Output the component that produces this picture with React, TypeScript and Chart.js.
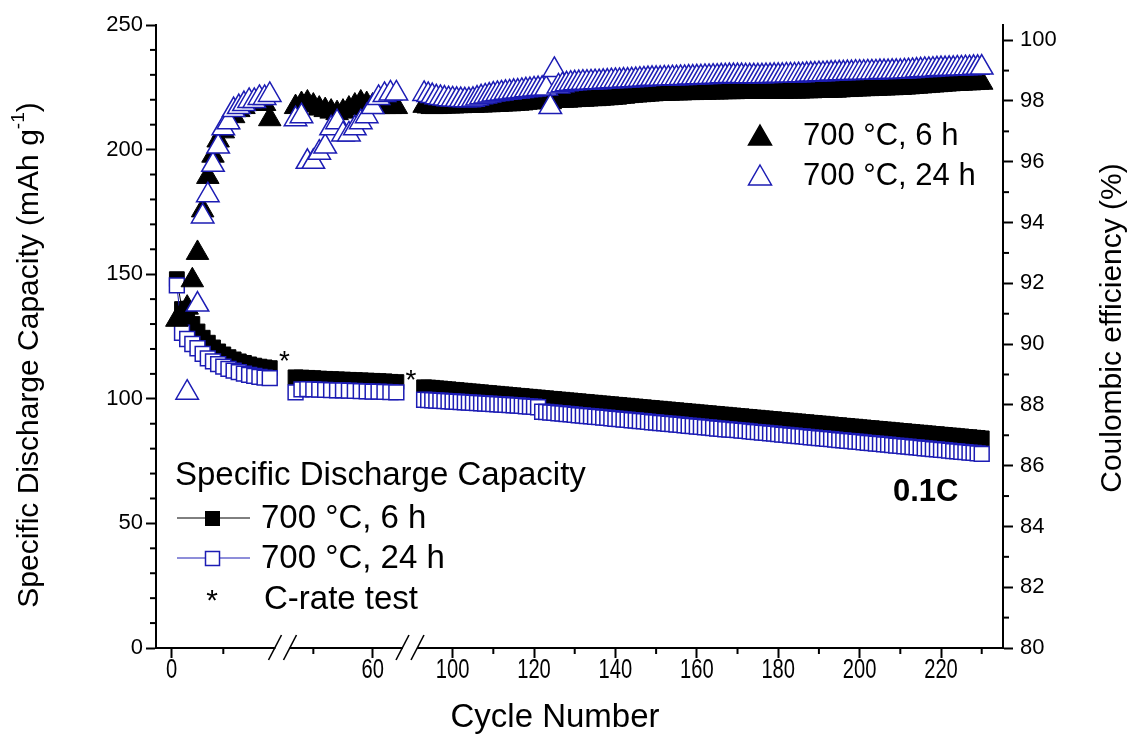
import React, { useEffect, useRef } from 'react';
import { Chart, registerables } from 'chart.js';
Chart.register(...registerables);

const BLUE = '#1c1cb4';
const FONT = '"Liberation Sans", Arial, sans-serif';

// ---------- data (cycle numbers per axis segment) ----------
const cyclesA = [1, 2, 3, 4, 5, 6, 7, 8, 9, 10, 11, 12, 13, 14, 15, 16, 17, 18, 19];
const cyclesB = [47, 48, 49, 50, 51, 52, 53, 54, 55, 56, 57, 58, 59, 60, 61, 62, 63, 64];
const cyclesC = [
  93, 94, 95, 96, 97, 98, 99,
  100, 101, 102, 103, 104, 105, 106, 107, 108, 109,
  110, 111, 112, 113, 114, 115, 116, 117, 118, 119,
  120, 121, 122, 123, 124, 125, 126, 127, 128, 129,
  130, 131, 132, 133, 134, 135, 136, 137, 138, 139,
  140, 141, 142, 143, 144, 145, 146, 147, 148, 149,
  150, 151, 152, 153, 154, 155, 156, 157, 158, 159,
  160, 161, 162, 163, 164, 165, 166, 167, 168, 169,
  170, 171, 172, 173, 174, 175, 176, 177, 178, 179,
  180, 181, 182, 183, 184, 185, 186, 187, 188, 189,
  190, 191, 192, 193, 194, 195, 196, 197, 198, 199,
  200, 201, 202, 203, 204, 205, 206, 207, 208, 209,
  210, 211, 212, 213, 214, 215, 216, 217, 218, 219,
  220, 221, 222, 223, 224, 225, 226, 227, 228, 229, 230,
];

// Specific discharge capacity (mAh g-1)
const cap6hA = [148.0, 136.0, 133.0, 130.0, 127.0, 124.5, 122.5, 120.6, 119.0, 117.8, 116.7, 115.8, 115.0, 114.4, 113.8, 113.3, 112.9, 112.6, 112.3];
const cap24hA = [145.5, 126.5, 124.0, 122.0, 120.3, 118.0, 116.2, 115.0, 113.9, 112.9, 112.0, 111.3, 110.7, 110.1, 109.6, 109.2, 108.8, 108.5, 108.3];
const cap6hB = [108.6, 108.5, 108.4, 108.3, 108.1, 108.0, 107.9, 107.8, 107.7, 107.6, 107.5, 107.4, 107.3, 107.2, 107.1, 107.0, 106.8, 106.7];
const cap24hB = [102.6, 103.8, 103.9, 103.8, 103.7, 103.6, 103.5, 103.4, 103.4, 103.3, 103.2, 103.1, 103.0, 102.9, 102.9, 102.8, 102.7, 102.6];
const cap6hC = [
  104.6, 104.5, 104.4, 104.2, 104.1, 103.9, 103.8,
  103.6, 103.5, 103.3, 103.2, 103.0, 102.9, 102.7, 102.6, 102.4, 102.3,
  102.1, 102.0, 101.8, 101.7, 101.5, 101.4, 101.2, 101.1, 100.9, 100.8,
  100.6, 100.5, 100.3, 100.2, 100.0, 99.9, 99.7, 99.6, 99.4, 99.3,
  99.1, 99.0, 98.8, 98.7, 98.5, 98.4, 98.2, 98.1, 97.9, 97.8,
  97.6, 97.5, 97.3, 97.2, 97.0, 96.9, 96.7, 96.6, 96.4, 96.3,
  96.1, 96.0, 95.8, 95.7, 95.5, 95.4, 95.2, 95.1, 94.9, 94.8,
  94.6, 94.5, 94.3, 94.2, 94.0, 93.9, 93.7, 93.6, 93.4, 93.3,
  93.1, 93.0, 92.8, 92.7, 92.5, 92.4, 92.2, 92.1, 91.9, 91.8,
  91.6, 91.5, 91.3, 91.2, 91.0, 90.9, 90.7, 90.6, 90.4, 90.3,
  90.1, 90.0, 89.8, 89.7, 89.5, 89.4, 89.2, 89.1, 88.9, 88.8,
  88.6, 88.5, 88.3, 88.2, 88.0, 87.9, 87.7, 87.6, 87.4, 87.3,
  87.1, 87.0, 86.8, 86.7, 86.5, 86.4, 86.2, 86.1, 85.9, 85.8,
  85.6, 85.5, 85.3, 85.2, 85.0, 84.9, 84.7, 84.6, 84.4, 84.3, 84.1,
];
const cap24hC = [
  99.6, 99.5, 99.4, 99.3, 99.2, 99.1, 99.0,
  98.9, 98.8, 98.7, 98.6, 98.5, 98.4, 98.3, 98.2, 98.1, 98.0,
  97.9, 97.8, 97.7, 97.6, 97.5, 97.4, 97.3, 97.2, 97.0, 96.9,
  96.8, 96.6, 94.8, 94.7, 94.5, 94.4, 94.2, 94.1, 93.9, 93.8,
  93.6, 93.4, 93.3, 93.1, 93.0, 92.8, 92.7, 92.5, 92.4, 92.2,
  92.0, 91.9, 91.7, 91.6, 91.4, 91.3, 91.1, 91.0, 90.8, 90.6,
  90.5, 90.3, 90.2, 90.0, 89.9, 89.7, 89.6, 89.4, 89.2, 89.1,
  88.9, 88.8, 88.6, 88.5, 88.3, 88.1, 88.0, 87.8, 87.7, 87.5,
  87.4, 87.2, 87.1, 86.9, 86.7, 86.6, 86.4, 86.3, 86.1, 86.0,
  85.8, 85.6, 85.5, 85.3, 85.2, 85.0, 84.9, 84.7, 84.5, 84.4,
  84.2, 84.1, 83.9, 83.8, 83.6, 83.4, 83.3, 83.1, 83.0, 82.8,
  82.7, 82.5, 82.3, 82.2, 82.0, 81.9, 81.7, 81.6, 81.4, 81.2,
  81.1, 80.9, 80.8, 80.6, 80.5, 80.3, 80.1, 80.0, 79.8, 79.7,
  79.5, 79.4, 79.2, 79.0, 78.9, 78.7, 78.6, 78.4, 78.3, 78.1, 77.9,
];

// Coulombic efficiency (%)
const ce6hA = [90.8, 91.0, 91.2, 92.1, 93.0, 94.4, 95.5, 96.2, 96.7, 97.0, 97.3, 97.5, 97.7, 97.8, 97.9, 97.9, 98.0, 97.9, 97.4];
const ce24hA = [null, null, 88.4, null, 91.3, 94.2, 94.9, 95.9, 96.5, 97.1, 97.3, 97.7, 97.8, 97.9, 98.0, 98.0, 98.1, 98.1, 98.2];
const ce6hB = [97.8, 97.9, 97.95, 97.85, 97.75, 97.7, 97.65, 97.6, 97.65, 97.75, 97.85, 97.95, 97.9, 97.85, 97.8, 97.8, 97.8, 97.8];
const ce24hB = [97.4, 97.5, 96.0, 96.0, 96.3, 96.5, 97.1, 97.3, 96.9, 96.9, 97.1, 97.3, 97.5, 97.8, 98.1, 98.2, 98.25, 98.25];
const ce6hC = [
  97.84, 97.82, 97.80, 97.80, 97.81, 97.82, 97.82,
  97.82, 97.83, 97.83, 97.84, 97.84, 97.84, 97.85, 97.85, 97.86, 97.86,
  97.87, 97.87, 97.88, 97.89, 97.89, 97.90, 97.91, 97.92, 97.94, 97.95,
  97.97, 97.98, 97.99, 97.99, 97.96, 98.02, 98.01, 98.01, 98.01, 98.02,
  98.03, 98.04, 98.04, 98.05, 98.06, 98.06, 98.07, 98.08, 98.09, 98.10,
  98.11, 98.13, 98.14, 98.16, 98.17, 98.18, 98.19, 98.20, 98.21, 98.22,
  98.23, 98.23, 98.24, 98.24, 98.25, 98.25, 98.25, 98.26, 98.26, 98.26,
  98.27, 98.27, 98.27, 98.28, 98.28, 98.28, 98.29, 98.29, 98.29, 98.29,
  98.30, 98.30, 98.30, 98.30, 98.30, 98.30, 98.30, 98.30, 98.30, 98.30,
  98.30, 98.30, 98.31, 98.31, 98.31, 98.31, 98.32, 98.32, 98.32, 98.33,
  98.33, 98.33, 98.33, 98.34, 98.34, 98.35, 98.36, 98.36, 98.37, 98.38,
  98.38, 98.39, 98.39, 98.40, 98.40, 98.41, 98.41, 98.42, 98.42, 98.43,
  98.43, 98.44, 98.45, 98.46, 98.47, 98.48, 98.49, 98.50, 98.51, 98.52,
  98.53, 98.54, 98.55, 98.56, 98.56, 98.57, 98.58, 98.58, 98.59, 98.60, 98.60,
];
const ce24hC = [
  98.23, 98.20, 98.16, 98.12, 98.10, 98.08, 98.06,
  98.05, 98.04, 98.03, 98.02, 98.02, 98.04, 98.08, 98.12, 98.15, 98.18,
  98.21, 98.23, 98.25, 98.27, 98.28, 98.30, 98.31, 98.33, 98.35, 98.36,
  98.38, 98.39, 98.40, 98.41, 97.80, 99.02, 98.48, 98.52, 98.55, 98.57,
  98.58, 98.59, 98.60, 98.60, 98.61, 98.62, 98.62, 98.63, 98.64, 98.65,
  98.66, 98.66, 98.67, 98.67, 98.68, 98.69, 98.70, 98.71, 98.72, 98.73,
  98.73, 98.73, 98.74, 98.74, 98.75, 98.75, 98.76, 98.76, 98.77, 98.77,
  98.78, 98.78, 98.79, 98.79, 98.80, 98.80, 98.81, 98.81, 98.82, 98.82,
  98.82, 98.82, 98.81, 98.81, 98.81, 98.81, 98.81, 98.82, 98.82, 98.83,
  98.83, 98.83, 98.84, 98.84, 98.84, 98.85, 98.85, 98.86, 98.87, 98.87,
  98.88, 98.88, 98.89, 98.90, 98.90, 98.91, 98.91, 98.92, 98.92, 98.93,
  98.93, 98.93, 98.94, 98.94, 98.94, 98.95, 98.95, 98.95, 98.96, 98.96,
  98.96, 98.97, 98.98, 98.99, 99.00, 99.01, 99.02, 99.02, 99.03, 99.04,
  99.05, 99.05, 99.06, 99.06, 99.07, 99.07, 99.08, 99.08, 99.09, 99.09, 99.10,
];

// ticks
const xMajorTicks = [0, 60, 100, 120, 140, 160, 180, 200, 220];
const xMinorTicks = [10, 50, 110, 130, 150, 170, 190, 210, 230];
const yLeftMinor = [10, 20, 30, 40, 60, 70, 80, 90, 110, 120, 130, 140, 160, 170, 180, 190, 210, 220, 230, 240];
const yRightMajor = [80, 82, 84, 86, 88, 90, 92, 94, 96, 98, 100];
const yRightMinor = [81, 83, 85, 87, 89, 91, 93, 95, 97, 99];
// C-rate test markers (capacity level of the asterisks)
const cRateMarkY = [118, 110.4];

const pts = (xs: number[], ys: (number | null)[]) => xs.map((x, i) => ({ x, y: ys[i] }));

const segments = [
  { id: 'xA', cycles: cyclesA, cap6: cap6hA, cap24: cap24hA, ce6: ce6hA, ce24: ce24hA, min: -3.04, max: 21.47, weight: 126.5 },
  { id: 'xB', cycles: cyclesB, cap6: cap6hB, cap24: cap24hB, ce6: ce6hB, ce24: ce24hB, min: 44.8, max: 66.3, weight: 127.5 },
  { id: 'xC', cycles: cyclesC, cap6: cap6hC, cap24: cap24hC, ce6: ce6hC, ce24: ce24hC, min: 89.53, max: 235.23, weight: 593 },
];

const decor = {
  id: 'decor',
  afterDraw(chart: any) {
    const { ctx, chartArea, scales } = chart;
    const yL = scales.yL, yR = scales.yR;
    const xs = [scales.xA, scales.xB, scales.xC];
    const base = chartArea.bottom;
    ctx.save();
    ctx.strokeStyle = '#000';
    ctx.fillStyle = '#000';
    ctx.lineWidth = 2;
    const seg = (x1: number, y1: number, x2: number, y2: number) => {
      ctx.beginPath(); ctx.moveTo(x1, y1); ctx.lineTo(x2, y2); ctx.stroke();
    };
    // minor ticks
    for (const v of yLeftMinor) { const y = yL.getPixelForValue(v); seg(chartArea.left - 6, y, chartArea.left, y); }
    for (const v of yRightMinor) { const y = yR.getPixelForValue(v); seg(chartArea.right, y, chartArea.right + 6, y); }
    for (const s of xs) {
      for (const v of xMinorTicks) {
        if (v > s.min && v < s.max) { const x = s.getPixelForValue(v); seg(x, base, x, base + 6); }
      }
    }
    // x tick labels (condensed face)
    ctx.font = `28px ${FONT}`;
    ctx.textAlign = 'center';
    ctx.textBaseline = 'middle';
    for (const s of xs) {
      for (const t of s.ticks) {
        const x = s.getPixelForValue(t.value);
        ctx.save();
        ctx.translate(x, base + 22);
        ctx.scale(0.72, 1);
        ctx.fillText(String(t.value), 0, 0);
        ctx.restore();
      }
    }
    // axis breaks
    ctx.lineWidth = 1.6;
    for (const bx of [xs[0].right, xs[1].right]) {
      ctx.fillStyle = '#fff';
      ctx.fillRect(bx - 7, base - 2, 14, 4);
      ctx.fillStyle = '#000';
      for (const c of [bx - 7.5, bx + 7.5]) seg(c - 6.5, base + 12, c + 6.5, base - 13);
    }
    // C-rate test asterisks
    ctx.font = `28px ${FONT}`;
    ctx.textAlign = 'center';
    ctx.textBaseline = 'alphabetic';
    [xs[0].right + 2, xs[1].right + 1].forEach((x: number, i: number) => {
      ctx.fillText('*', x, yL.getPixelForValue(cRateMarkY[i]) + 16);
    });

    // axis titles
    ctx.textBaseline = 'middle';
    ctx.font = `33px ${FONT}`;
    ctx.fillText('Cycle Number', 555, 718);

    ctx.save();
    ctx.translate(30, 355);
    ctx.rotate(-Math.PI / 2);
    const t1 = 'Specific Discharge Capacity (mAh g';
    const t2 = '-1';
    const t3 = ')';
    ctx.font = `30px ${FONT}`;
    const w1 = ctx.measureText(t1).width;
    const w3 = ctx.measureText(t3).width;
    ctx.font = `19px ${FONT}`;
    const w2 = ctx.measureText(t2).width;
    let tx = -(w1 + w2 + w3) / 2;
    ctx.textAlign = 'left';
    ctx.font = `30px ${FONT}`;
    ctx.fillText(t1, tx, 0);
    tx += w1;
    ctx.font = `19px ${FONT}`;
    ctx.fillText(t2, tx, -11);
    tx += w2;
    ctx.font = `30px ${FONT}`;
    ctx.fillText(t3, tx, 0);
    ctx.restore();

    ctx.save();
    ctx.translate(1113, 328);
    ctx.rotate(-Math.PI / 2);
    ctx.textAlign = 'center';
    ctx.font = `30px ${FONT}`;
    ctx.fillText('Coulombic efficiency (%)', 0, 0);
    ctx.restore();

    // top-right legend (Coulombic efficiency)
    const tri = (cx: number, cy: number, fill: string, stroke: string) => {
      ctx.beginPath();
      ctx.moveTo(cx, cy - 11);
      ctx.lineTo(cx + 11.5, cy + 9);
      ctx.lineTo(cx - 11.5, cy + 9);
      ctx.closePath();
      ctx.fillStyle = fill; ctx.fill();
      ctx.lineWidth = 1.5; ctx.strokeStyle = stroke; ctx.stroke();
    };
    tri(760, 136, '#000', '#000');
    tri(760, 176, '#fff', BLUE);
    ctx.fillStyle = '#000';
    ctx.textAlign = 'left';
    ctx.font = `31px ${FONT}`;
    ctx.fillText('700 °C, 6 h', 803, 136);
    ctx.fillText('700 °C, 24 h', 803, 176);

    // bottom-left legend (capacity)
    ctx.font = `33px ${FONT}`;
    ctx.fillText('Specific Discharge Capacity', 175, 476);
    ctx.lineWidth = 1;
    ctx.strokeStyle = '#000';
    seg(177, 518, 250, 518);
    ctx.fillStyle = '#000';
    ctx.fillRect(205, 511, 15, 15);
    ctx.strokeStyle = BLUE;
    seg(177, 558, 250, 558);
    ctx.fillStyle = '#fff';
    ctx.fillRect(205, 551, 15, 15);
    ctx.lineWidth = 1.5;
    ctx.strokeRect(205.5, 551.5, 14, 14);
    ctx.fillStyle = '#000';
    ctx.fillText('700 °C, 6 h', 261, 519);
    ctx.fillText('700 °C, 24 h', 261, 559);
    ctx.textAlign = 'center';
    ctx.font = `30px ${FONT}`;
    ctx.textBaseline = 'alphabetic';
    ctx.fillText('*', 212, 610);
    ctx.textAlign = 'left';
    ctx.textBaseline = 'middle';
    ctx.font = `33px ${FONT}`;
    ctx.fillText('C-rate test', 264, 600);

    // rate label
    ctx.font = `bold 31px ${FONT}`;
    ctx.fillText('0.1C', 893, 492);
    ctx.restore();
  },
};

export default function App() {
  const ref = useRef<HTMLCanvasElement | null>(null);
  useEffect(() => {
    if (!ref.current) return;
    const datasets: any[] = [];
    for (const s of segments) {
      datasets.push({
        label: '700 °C, 24 h CE', data: pts(s.cycles, s.ce24), xAxisID: s.id, yAxisID: 'yR', order: 1,
        showLine: false, pointStyle: 'triangle', pointRadius: 13, pointBackgroundColor: '#fff',
        pointBorderColor: BLUE, pointBorderWidth: 1.5, clip: false,
      });
      datasets.push({
        label: '700 °C, 6 h CE', data: pts(s.cycles, s.ce6), xAxisID: s.id, yAxisID: 'yR', order: 2,
        showLine: false, pointStyle: 'triangle', pointRadius: 13, pointBackgroundColor: '#000',
        pointBorderColor: '#000', pointBorderWidth: 1, clip: false,
      });
      datasets.push({
        label: '700 °C, 24 h', data: pts(s.cycles, s.cap24), xAxisID: s.id, yAxisID: 'yL', order: 3,
        showLine: true, borderColor: BLUE, borderWidth: 1, pointStyle: 'rect', pointRadius: 10.5,
        pointBackgroundColor: '#fff', pointBorderColor: BLUE, pointBorderWidth: 1.5, clip: false,
      });
      datasets.push({
        label: '700 °C, 6 h', data: pts(s.cycles, s.cap6), xAxisID: s.id, yAxisID: 'yL', order: 4,
        showLine: true, borderColor: '#000', borderWidth: 1, pointStyle: 'rect', pointRadius: 10.5,
        pointBackgroundColor: '#000', pointBorderColor: '#000', pointBorderWidth: 1, clip: false,
      });
    }
    const scales: any = {};
    for (const s of segments) {
      scales[s.id] = {
        type: 'linear', position: 'bottom', stack: 'cycle', stackWeight: s.weight,
        min: s.min, max: s.max,
        afterBuildTicks: (sc: any) => {
          sc.ticks = xMajorTicks.filter((v) => v >= s.min && v <= s.max).map((v) => ({ value: v }));
        },
        afterFit: (sc: any) => { sc.height = 89; },
        grid: { display: true, drawOnChartArea: false, drawTicks: true, tickLength: 10, tickWidth: 2, tickColor: '#000' },
        border: { display: true, color: '#000', width: 2 },
        ticks: { display: false, autoSkip: false, maxRotation: 0, minRotation: 0 },
      };
    }
    scales.yL = {
      type: 'linear', position: 'left', min: 0, max: 250,
      afterFit: (sc: any) => { sc.width = 156; },
      grid: { display: true, drawOnChartArea: false, drawTicks: true, tickLength: 10, tickWidth: 2, tickColor: '#000' },
      border: { display: true, color: '#000', width: 2 },
      ticks: { stepSize: 50, color: '#000', padding: 3, font: { family: FONT, size: 22 } },
    };
    scales.yR = {
      type: 'linear', position: 'right', min: 80, max: 100.5,
      afterBuildTicks: (sc: any) => { sc.ticks = yRightMajor.map((v) => ({ value: v })); },
      afterFit: (sc: any) => { sc.width = 133; },
      grid: { display: true, drawOnChartArea: false, drawTicks: true, tickLength: 10, tickWidth: 2, tickColor: '#000' },
      border: { display: true, color: '#000', width: 2 },
      ticks: { color: '#000', padding: 7, font: { family: FONT, size: 22 } },
    };
    const chart = new Chart(ref.current, {
      type: 'line',
      data: { datasets },
      options: {
        animation: false,
        responsive: true,
        maintainAspectRatio: false,
        events: [],
        layout: { padding: { top: 25, left: 0, right: 0, bottom: 0 } },
        plugins: { legend: { display: false }, tooltip: { enabled: false } },
        scales,
      },
      plugins: [decor],
    } as any);
    return () => chart.destroy();
  }, []);
  return (
    <div style={{ position: 'fixed', left: 0, top: 0, width: 1136, height: 737, background: '#fff' }}>
      <canvas ref={ref} />
    </div>
  );
}
